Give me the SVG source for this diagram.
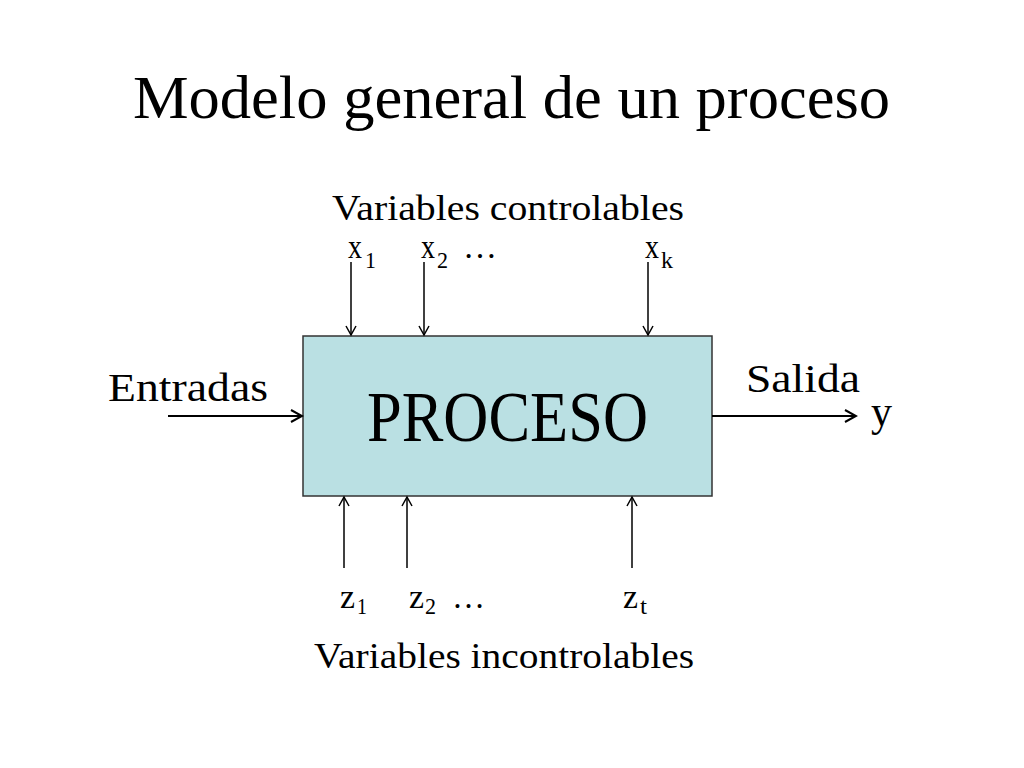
<svg xmlns="http://www.w3.org/2000/svg" width="1024" height="768" viewBox="0 0 1024 768">
<style>
text{font-family:"Liberation Serif","Times New Roman",serif;fill:#000}
.v{font-size:34px}
.s{font-size:24px}
.c{stroke:#000;stroke-width:1.5;fill:none}
.h{stroke:#000;stroke-width:2;fill:none}
</style>
<defs>
<marker id="a" markerWidth="12" markerHeight="12" refX="10" refY="6" orient="auto" markerUnits="userSpaceOnUse">
<path d="M1,1 L10,6 L1,11" fill="none" stroke="#000" stroke-width="1.5"/>
</marker>
<marker id="b" markerWidth="14" markerHeight="14" refX="12" refY="7" orient="auto" markerUnits="userSpaceOnUse">
<path d="M1,1 L12,7 L1,13" fill="none" stroke="#000" stroke-width="2"/>
</marker>
</defs>
<rect width="1024" height="768" fill="#fff"/>
<text x="133" y="118" font-size="62" textLength="757" lengthAdjust="spacingAndGlyphs">Modelo general de un proceso</text>
<g id="proceso">
<rect x="303" y="336" width="409" height="160" fill="#bae0e3" stroke="#333" stroke-width="1.5"/>
<text x="367" y="441" font-size="71" textLength="281" lengthAdjust="spacingAndGlyphs">PROCESO</text>
</g>
<g id="controlables">
<text x="332" y="220" font-size="36" textLength="352" lengthAdjust="spacingAndGlyphs">Variables controlables</text>
<text class="v" x="348" y="258" textLength="14" lengthAdjust="spacingAndGlyphs">x</text><text class="s" x="365" y="268" textLength="11" lengthAdjust="spacingAndGlyphs">1</text>
<text class="v" x="421" y="258" textLength="14" lengthAdjust="spacingAndGlyphs">x</text><text class="s" x="437" y="268" textLength="11" lengthAdjust="spacingAndGlyphs">2</text>
<text class="v" x="463" y="258" textLength="34" lengthAdjust="spacingAndGlyphs">…</text>
<text class="v" x="645" y="258" textLength="14" lengthAdjust="spacingAndGlyphs">x</text><text class="s" x="661" y="268" textLength="12" lengthAdjust="spacingAndGlyphs">k</text>
</g>
<g id="incontrolables">
<text x="314" y="668" font-size="36" textLength="380" lengthAdjust="spacingAndGlyphs">Variables incontrolables</text>
<text class="v" x="340" y="608" textLength="15" lengthAdjust="spacingAndGlyphs">z</text><text class="s" x="357" y="614" textLength="10" lengthAdjust="spacingAndGlyphs">1</text>
<text class="v" x="409" y="608" textLength="15" lengthAdjust="spacingAndGlyphs">z</text><text class="s" x="425" y="614" textLength="11" lengthAdjust="spacingAndGlyphs">2</text>
<text class="v" x="452" y="608" textLength="33" lengthAdjust="spacingAndGlyphs">…</text>
<text class="v" x="623" y="608" textLength="15" lengthAdjust="spacingAndGlyphs">z</text><text class="s" x="640" y="614" textLength="7" lengthAdjust="spacingAndGlyphs">t</text>
</g>
<g id="entradas">
<text x="108" y="401" font-size="41" textLength="160" lengthAdjust="spacingAndGlyphs">Entradas</text>
</g>
<g id="salida">
<text x="746" y="392" font-size="41" textLength="114" lengthAdjust="spacingAndGlyphs">Salida</text>
<text x="871" y="426" font-size="44" textLength="21" lengthAdjust="spacingAndGlyphs">y</text>
</g>
<g id="connectors">
<line class="c" x1="351" y1="262" x2="351" y2="335" marker-end="url(#a)"/>
<line class="c" x1="424" y1="262" x2="424" y2="335" marker-end="url(#a)"/>
<line class="c" x1="648" y1="262" x2="648" y2="335" marker-end="url(#a)"/>
<line class="c" x1="344" y1="568" x2="344" y2="497" marker-end="url(#a)"/>
<line class="c" x1="407" y1="568" x2="407" y2="497" marker-end="url(#a)"/>
<line class="c" x1="632" y1="568" x2="632" y2="497" marker-end="url(#a)"/>
<line class="h" x1="168" y1="416" x2="302" y2="416" marker-end="url(#b)"/>
<line class="h" x1="712" y1="416" x2="856" y2="416" marker-end="url(#b)"/>
</g>
</svg>
